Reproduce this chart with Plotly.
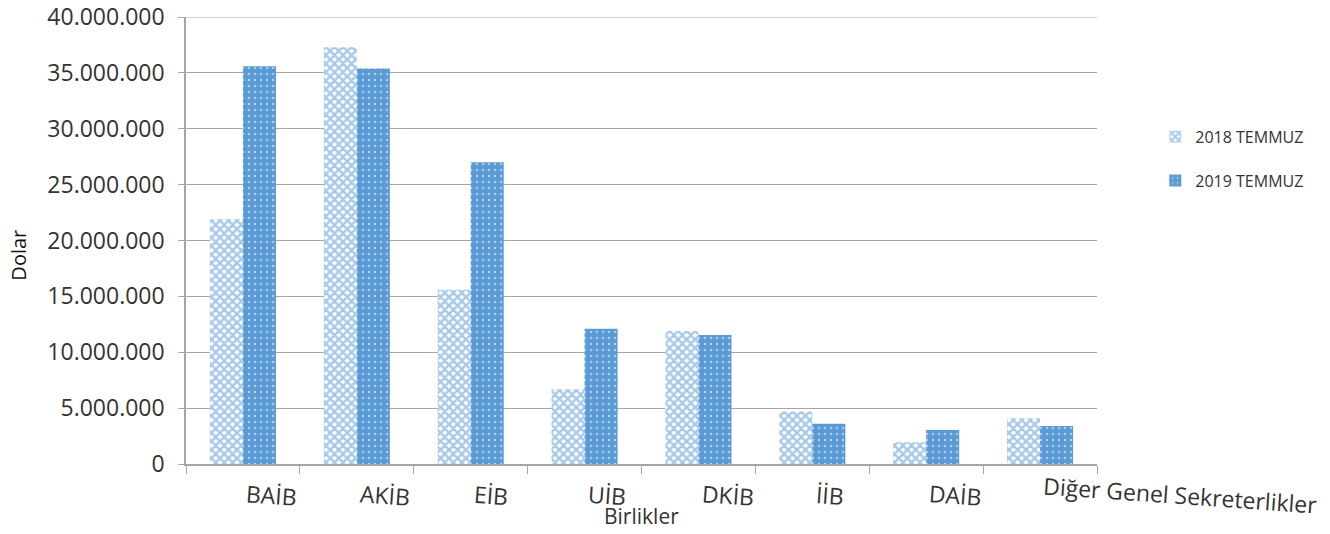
import plotly.graph_objects as go

categories = ["BAİB", "AKİB", "EİB", "UİB", "DKİB", "İİB", "DAİB", "Diğer Genel Sekreterlikler"]
values_2018 = [21900000, 37300000, 15600000, 6700000, 11900000, 4700000, 1950000, 4100000]
values_2019 = [35600000, 35400000, 27000000, 12100000, 11550000, 3600000, 3050000, 3400000]
series_names = ["2018 TEMMUZ", "2019 TEMMUZ"]
y_ticks = [0, 5000000, 10000000, 15000000, 20000000, 25000000, 30000000, 35000000, 40000000]

BLUE = "#5B9BD5"
FONT = "Open Sans"
TXT = "#333333"

fig = go.Figure()
fig.add_trace(go.Bar(
    x=categories, y=values_2018, name=series_names[0], legendgroup="a",
    marker=dict(color="white", line=dict(width=0),
                pattern=dict(shape="x", fgcolor="#4F93D2", bgcolor="white", size=6, solidity=0.65, fillmode="overlay")),
))
fig.add_trace(go.Bar(
    x=categories, y=values_2019, name=series_names[1], legendgroup="b",
    marker=dict(color=BLUE, line=dict(width=0),
                pattern=dict(shape=".", fgcolor="white", bgcolor=BLUE, size=6, solidity=0.12, fillmode="overlay")),
))

annotations = []
for c in categories:
    annotations.append(dict(x=c, y=-0.07, xref="x", yref="paper", text=c, showarrow=False,
                            xanchor="left", yanchor="middle", textangle=4,
                            font=dict(family=FONT, size=23, color=TXT)))
annotations.append(dict(x=0.5, y=-0.083, xref="paper", yref="paper", text="Birlikler", showarrow=False,
                        xanchor="center", yanchor="top", borderpad=0,
                        font=dict(family=FONT, size=21, color=TXT)))
annotations.append(dict(x=-0.184, y=0.467, xref="paper", yref="paper", text="Dolar", showarrow=False,
                        xanchor="center", yanchor="middle", textangle=-90,
                        font=dict(family=FONT, size=20, color="#111111")))

fig.update_layout(
    width=1330, height=534,
    margin=dict(l=186, r=233, t=17, b=70),
    plot_bgcolor="white", paper_bgcolor="white",
    barmode="group", bargap=0.42, bargroupgap=0,
    separators=",.",
    showlegend=True,
    legend=dict(x=1.064, y=0.77, xanchor="left", yanchor="top", traceorder="grouped",
                tracegroupgap=20, font=dict(family=FONT, size=16, color=TXT), bgcolor="rgba(0,0,0,0)"),
    annotations=annotations,
    font=dict(family=FONT, color=TXT),
)
fig.update_xaxes(range=[-0.5, len(categories) - 0.5], autorange=False, automargin=False,
                 showticklabels=False, showline=True, linecolor="#A6A6A6", linewidth=1.5,
                 ticks="outside", tickson="boundaries", ticklen=8, tickcolor="#A6A6A6", showgrid=False)
fig.update_yaxes(range=[0, 40000000], autorange=False, automargin=False, tickvals=y_ticks, tickformat=",d",
                 showline=True, linecolor="#A6A6A6", linewidth=1.5, ticks="outside", ticklen=6,
                 tickcolor="#A6A6A6", showgrid=True, gridcolor="#A6A6A6", gridwidth=1.2,
                 ticklabelstandoff=9, ticklabeloverflow="allow",
                 tickfont=dict(family=FONT, size=23, color=TXT),
                 zeroline=False)
fig.add_hline(y=y_ticks[-1], line=dict(color="#A6A6A6", width=1.2), layer="below")

fig.write_html("out.html", config={"displayModeBar": False},
               post_script="document.body.style.margin='0';document.body.style.overflow='hidden';")
